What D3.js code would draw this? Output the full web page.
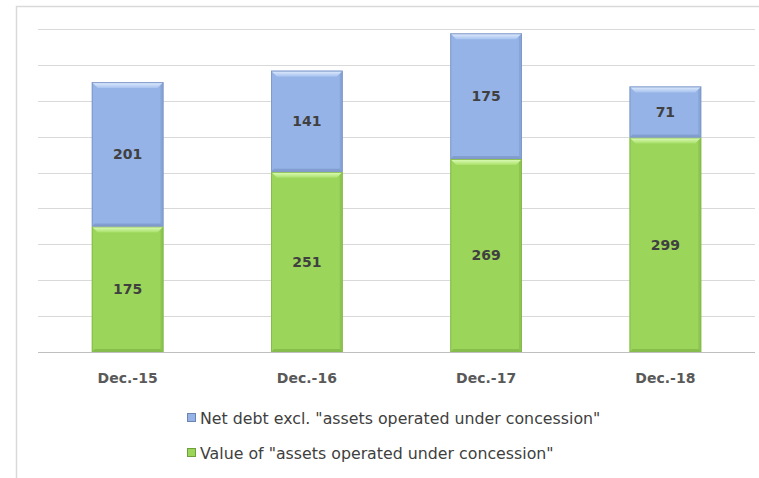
<!DOCTYPE html>
<html><head><meta charset="utf-8">
<script src="https://cdn.jsdelivr.net/npm/d3@7"></script>
<style>body{margin:0;background:#fff;}svg{display:block;font-family:"DejaVu Sans",Verdana,sans-serif;}</style>
</head><body><svg id="c" width="759" height="478"></svg>
<script>
const categories = ["Dec.-15","Dec.-16","Dec.-17","Dec.-18"];
const concession = [175,251,269,299];
const netDebt = [201,141,175,71];
const seriesNames = ['Value of "assets operated under concession"','Net debt excl. "assets operated under concession"'];
const yTicks = [0,50,100,150,200,250,300,350,400,450];

const svg = d3.select("#c");
svg.append("rect").attr("x",16.5).attr("y",6.5).attr("width",760).attr("height",480).attr("fill","#fff").attr("stroke","#d9d9d9").attr("stroke-width",1.5);

const x = d3.scaleBand().domain(categories).range([38,755]).paddingInner(0.6).paddingOuter(0.3);
const y = d3.scaleLinear().domain([0,450]).range([352,29]);

svg.append("g").selectAll("line").data(yTicks.slice(1)).join("line")
 .attr("x1",38).attr("x2",755).attr("y1",d=>Math.round(y(d))+0.5).attr("y2",d=>Math.round(y(d))+0.5)
 .attr("stroke","#d9d9d9").attr("stroke-width",1);
svg.append("line").attr("x1",38).attr("x2",755).attr("y1",352.5).attr("y2",352.5).attr("stroke","#bfbfbf");

const defs = svg.append("defs");
function grad(id, c1, c2){
  const g = defs.append("linearGradient").attr("id",id).attr("x1",0).attr("x2",0).attr("y1",0).attr("y2",1);
  g.append("stop").attr("offset","0").attr("stop-color",c1);
  g.append("stop").attr("offset","1").attr("stop-color",c2);
}
const colors = [{main:"#9bd65a",dark:"#6f9f3c",edge:"#86bb4e"},{main:"#95b3e7",dark:"#6b84b3",edge:"#8199c8"}];
grad("gTopG","#e3ffc0","#a9e06a");
grad("gTopB","#e3efff","#a7c2ee");

const stacked = categories.map((c,i)=>({c, segs:[{s:0,lo:0,hi:concession[i],v:concession[i]},{s:1,lo:concession[i],hi:concession[i]+netDebt[i],v:netDebt[i]}]}));

const bw = x.bandwidth();
const bev = 6;
stacked.forEach(d=>{
  const x0 = x(d.c);
  d.segs.forEach(sg=>{
    const col = colors[sg.s];
    const yt = y(sg.hi), yb = y(sg.lo);
    const g = svg.append("g");
    g.append("rect").attr("x",x0).attr("y",yt).attr("width",bw).attr("height",yb-yt).attr("fill",col.main);
    g.append("polygon").attr("points",[[x0,yt],[x0+bw,yt],[x0+bw-bev,yt+bev],[x0+bev,yt+bev]].join(" "))
      .attr("fill",sg.s===0?"url(#gTopG)":"url(#gTopB)");
    g.append("polygon").attr("points",[[x0+bw,yt],[x0+bw-3,yt+3],[x0+bw-3,yb-3],[x0+bw,yb]].join(" ")).attr("fill",col.dark).attr("opacity",0.3);
    g.append("polygon").attr("points",[[x0,yb],[x0+3,yb-3],[x0+bw-3,yb-3],[x0+bw,yb]].join(" ")).attr("fill",col.dark).attr("opacity",0.45);
    g.append("rect").attr("x",x0+0.5).attr("y",yt+0.5).attr("width",bw-1).attr("height",yb-yt-1).attr("fill","none").attr("stroke",col.edge).attr("stroke-width",1);
    g.append("text").attr("x",x0+bw/2).attr("y",(yt+yb)/2).attr("dy","0.35em").attr("text-anchor","middle")
      .attr("font-size",14).attr("font-weight","bold").attr("fill","#404040").text(sg.v);
  });
});

svg.append("g").selectAll("text").data(categories).join("text")
  .attr("x",d=>x(d)+bw/2).attr("y",383).attr("text-anchor","middle").attr("font-size",14).attr("font-weight","bold").attr("fill","#595959").text(d=>d);

const leg = [{name:seriesNames[1],s:1,y:418},{name:seriesNames[0],s:0,y:453}];
leg.forEach(l=>{
  const col = colors[l.s];
  svg.append("rect").attr("x",187.5).attr("y",l.y-4.5).attr("width",8).attr("height",8).attr("fill",col.main).attr("stroke",col.dark).attr("stroke-width",1);
  svg.append("text").attr("x",200).attr("y",l.y).attr("dy","0.35em").attr("font-size",15.8).attr("fill","#404040").text(l.name);
});
</script></body></html>
